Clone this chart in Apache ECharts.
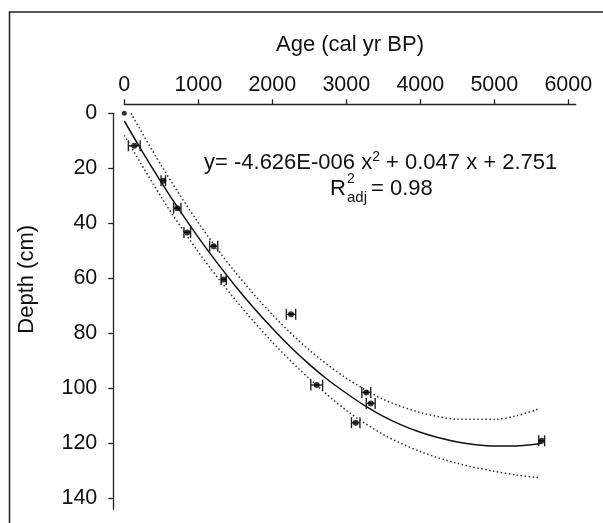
<!DOCTYPE html>
<html>
<head>
<meta charset="utf-8">
<title>Age-depth model</title>
<script src="https://cdn.jsdelivr.net/npm/echarts@6.0.0/dist/echarts.min.js"></script>
<style>
  html, body { margin: 0; padding: 0; background: #fff; }
  #chart { width: 603px; height: 523px; }
</style>
</head>
<body>
<div id="chart"></div>
<script>
// dated samples: calibrated age, depth, 1-sigma age range
const ages = [0, 135, 527, 716, 851, 1208, 1343, 2253, 2600, 3270, 3330, 3127, 5640];
const depths = [0, 11.8, 24.5, 34.5, 43.3, 48.3, 60.4, 73.1, 98.8, 101.5, 105.5, 112.5, 119.1];
const ageErrors = [0, 80, 30, 50, 45, 55, 35, 63, 80, 60, 60, 57, 40];

// fitted curve and its confidence band
const fitAges = [0, 250, 500, 750, 1000, 1250, 1500, 1750, 2000, 2250, 2500, 2750, 3000,
  3250, 3500, 3750, 4000, 4250, 4500, 4750, 5000, 5250, 5500, 5640];
const fitDepths = [2.8, 14.2, 25.1, 35.4, 45.1, 54.2, 62.8, 70.8, 78.2, 85.1, 91.3, 96.9, 101.8,
  106.3, 110.2, 113.4, 116, 118, 119.5, 120.5, 121, 121, 120.5, 120];
const upperAges = [90, 500, 1000, 1500, 2000, 2500, 3000, 3500, 4000, 4500, 5000, 5300, 5600];
const upperDepths = [0, 19, 39.8, 57.8, 73.2, 86.1, 96.3, 104, 108.8, 111.2, 111.3, 110, 107.5];
const lowerAges = [0, 500, 1000, 1500, 2000, 2500, 3000, 3500, 4000, 4500, 5000, 5300, 5600];
const lowerDepths = [8, 30.5, 50.4, 67.8, 83.2, 96.5, 108, 116.8, 123, 127.3, 130.2, 131.5, 132.5];

const ageTicks = [0, 1000, 2000, 3000, 4000, 5000, 6000];
const depthTicks = [0, 20, 40, 60, 80, 100, 120, 140];

const FONT = '"Liberation Sans", Arial, sans-serif';
const INK = '#111';

const zip = (xs, ys) => xs.map((x, i) => [x, ys[i]]);

const chart = echarts.init(document.getElementById('chart'), null, { renderer: 'canvas' });

const axisCommon = {
  axisLine: { show: true, onZero: false, lineStyle: { color: '#222', width: 1.3 } },
  axisTick: { show: true, length: 5, lineStyle: { color: '#222', width: 1.3 } },
  splitLine: { show: false },
  nameMoveOverlap: false,
};

const bandStyle = { color: '#333', width: 1.5, type: [1.5, 2.5] };

const option = {
  animation: false,
  backgroundColor: '#fff',
  textStyle: { fontFamily: FONT },
  grid: { left: 124.3, top: 113.3, right: 27.3, bottom: 13.7, containLabel: false },
  xAxis: {
    ...axisCommon,
    type: 'value',
    position: 'top',
    offset: 9,
    min: 0,
    max: 6100,
    interval: 1000,
    axisTick: { ...axisCommon.axisTick, customValues: ageTicks },
    axisLabel: {
      customValues: ageTicks,
      formatter: (v) => String(v),
      margin: 8,
      color: INK,
      fontSize: 21.5,
      fontFamily: FONT,
    },
    name: 'Age (cal yr BP)',
    nameLocation: 'middle',
    nameGap: 48,
    nameTextStyle: { color: INK, fontSize: 22, fontFamily: FONT },
  },
  yAxis: {
    ...axisCommon,
    type: 'value',
    position: 'left',
    inverse: true,
    offset: 11,
    min: 0,
    max: 144,
    interval: 20,
    axisTick: { ...axisCommon.axisTick, customValues: depthTicks },
    axisLabel: {
      customValues: depthTicks,
      formatter: (v) => String(v),
      margin: 16,
      color: INK,
      fontSize: 21.5,
      fontFamily: FONT,
    },
    name: 'Depth (cm)',
    nameLocation: 'middle',
    nameGap: 75,
    nameTextStyle: { color: INK, fontSize: 22, fontFamily: FONT, padding: [0, 0, 0, 64] },
  },
  graphic: [
    {
      type: 'polyline',
      silent: true,
      shape: { points: [[9.5, 523], [9.5, 12], [603, 12]] },
      style: { stroke: '#222', lineWidth: 1.5, fill: null },
    },
    {
      type: 'text',
      left: 204,
      top: 150,
      style: {
        text: 'y= -4.626E-006 x{sup|2} + 0.047 x + 2.751',
        font: '22px ' + FONT,
        fill: INK,
        rich: {
          sup: { fontSize: 14, fontFamily: FONT, fill: INK, verticalAlign: 'bottom', padding: [0, 0, 11, 0] },
        },
      },
    },
    {
      type: 'group',
      left: 330,
      top: 172,
      children: [
        { type: 'text', x: 0, y: 2, style: { text: 'R', font: '22px ' + FONT, fill: INK } },
        { type: 'text', x: 17, y: -4, style: { text: '2', font: '14px ' + FONT, fill: INK } },
        { type: 'text', x: 17, y: 14, style: { text: 'adj', font: '15px ' + FONT, fill: INK } },
        { type: 'text', x: 41, y: 2, style: { text: '= 0.98', font: '22px ' + FONT, fill: INK } },
      ],
    },
  ],
  series: [
    {
      name: 'upper band',
      type: 'line',
      data: zip(upperAges, upperDepths),
      smooth: 0.3,
      showSymbol: false,
      clip: true,
      lineStyle: bandStyle,
      z: 2,
    },
    {
      name: 'lower band',
      type: 'line',
      data: zip(lowerAges, lowerDepths),
      smooth: 0.3,
      showSymbol: false,
      clip: true,
      lineStyle: bandStyle,
      z: 2,
    },
    {
      name: 'fit',
      type: 'line',
      data: zip(fitAges, fitDepths),
      smooth: 0.3,
      showSymbol: false,
      clip: true,
      lineStyle: { color: '#111', width: 1.5 },
      z: 3,
    },
    {
      name: 'age range',
      type: 'custom',
      data: ages.map((a, i) => [a, depths[i], ageErrors[i]]),
      clip: false,
      z: 4,
      renderItem: (params, api) => {
        const err = api.value(2);
        if (!err) return null;
        const left = api.coord([api.value(0) - err, api.value(1)]);
        const right = api.coord([api.value(0) + err, api.value(1)]);
        const cap = 5.5;
        const style = { stroke: '#222', lineWidth: 1.4 };
        return {
          type: 'group',
          children: [
            { type: 'line', shape: { x1: left[0], y1: left[1], x2: right[0], y2: right[1] }, style },
            { type: 'line', shape: { x1: left[0], y1: left[1] - cap, x2: left[0], y2: left[1] + cap }, style },
            { type: 'line', shape: { x1: right[0], y1: right[1] - cap, x2: right[0], y2: right[1] + cap }, style },
          ],
        };
      },
    },
    {
      name: 'samples',
      type: 'scatter',
      data: zip(ages, depths),
      symbol: 'circle',
      symbolSize: (val, params) => (params.dataIndex === 0 ? 5 : 6),
      clip: false,
      itemStyle: { color: '#000' },
      z: 5,
    },
  ],
};

chart.setOption(option);
</script>
</body>
</html>
